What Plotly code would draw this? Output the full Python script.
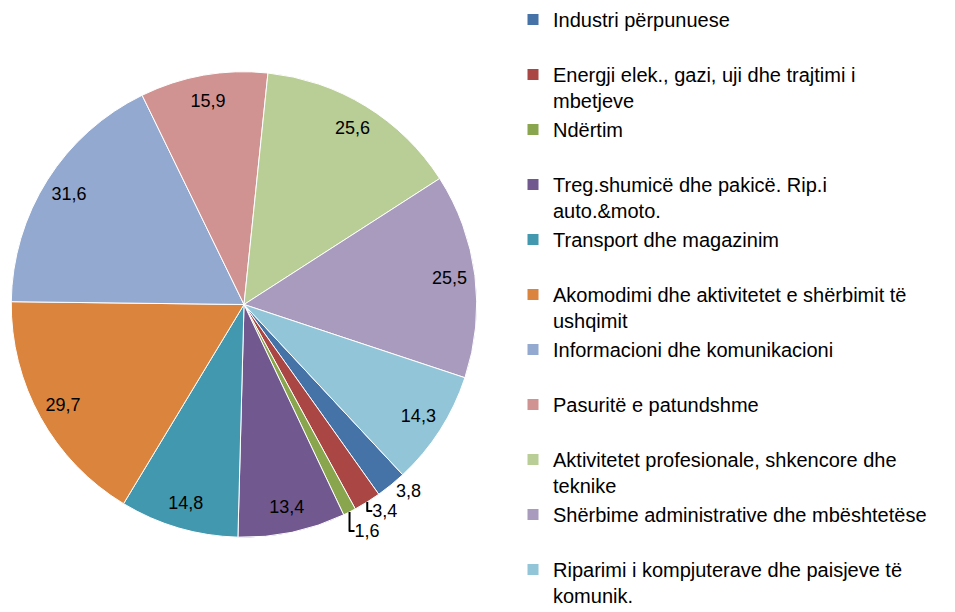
import plotly.graph_objects as go

categories = [
    "Industri përpunuese",
    "Energji elek., gazi, uji dhe trajtimi i<br>mbetjeve",
    "Ndërtim",
    "Treg.shumicë dhe pakicë. Rip.i<br>auto.&moto.",
    "Transport dhe magazinim",
    "Akomodimi dhe aktivitetet e shërbimit të<br>ushqimit",
    "Informacioni dhe komunikacioni",
    "Pasuritë e patundshme",
    "Aktivitetet profesionale, shkencore dhe<br>teknike",
    "Shërbime administrative dhe mbështetëse",
    "Riparimi i kompjuterave dhe paisjeve të<br>komunik.",
]
values = [3.8, 3.4, 1.6, 13.4, 14.8, 29.7, 31.6, 15.9, 25.6, 25.5, 14.3]
colors = ["#4572A7", "#AA4643", "#89A54E", "#71588F", "#4198AF", "#DB843D",
          "#93A9CF", "#D19392", "#B9CD96", "#A99BBD", "#92C5D8"]

# pad single-line legend entries to two lines so entries are evenly spaced
legend_labels = [c if "<br>" in c else c + "<br> " for c in categories]

dom_x = [10 / 955, 478 / 955]
dom_y = [(612 - 537) / 612, (612 - 70) / 612]

FONT = "Liberation Sans, Arial"

fig = go.Figure()
fig.add_trace(go.Pie(
    labels=legend_labels, values=values, sort=False, direction="clockwise",
    rotation=137, marker=dict(colors=colors, line=dict(color="white", width=1)),
    textinfo="none", hoverinfo="label+value", domain=dict(x=dom_x, y=dom_y),
    showlegend=True,
))
small = [v < 5 for v in values]
fig.add_trace(go.Pie(
    labels=legend_labels, values=values, sort=False, direction="clockwise",
    rotation=137, hole=0.78,
    marker=dict(colors=["rgba(0,0,0,0)"] * len(values), line=dict(width=0)),
    texttemplate="%{value:.1f}", textposition=["outside" if s else "inside" for s in small],
    insidetextorientation="horizontal",
    textfont=dict(family=FONT, size=18, color="black"),
    outsidetextfont=dict(family=FONT, size=18, color="black"),
    hoverinfo="skip", domain=dict(x=dom_x, y=dom_y), showlegend=False,
))

fig.update_layout(
    width=955, height=612, separators=", ",
    margin=dict(l=0, r=0, t=0, b=0),
    paper_bgcolor="white", plot_bgcolor="white",
    font=dict(family=FONT, color="black"),
    legend=dict(x=513 / 955, xanchor="left", y=1 + 2 / 612, yanchor="top",
                font=dict(size=20, color="black", family=FONT),
                valign="top", itemwidth=30, bgcolor="rgba(0,0,0,0)",
                maxheight=700),
)
fig.write_html("out.html", config={"displayModeBar": False},
               post_script="document.body.style.margin='0';")
